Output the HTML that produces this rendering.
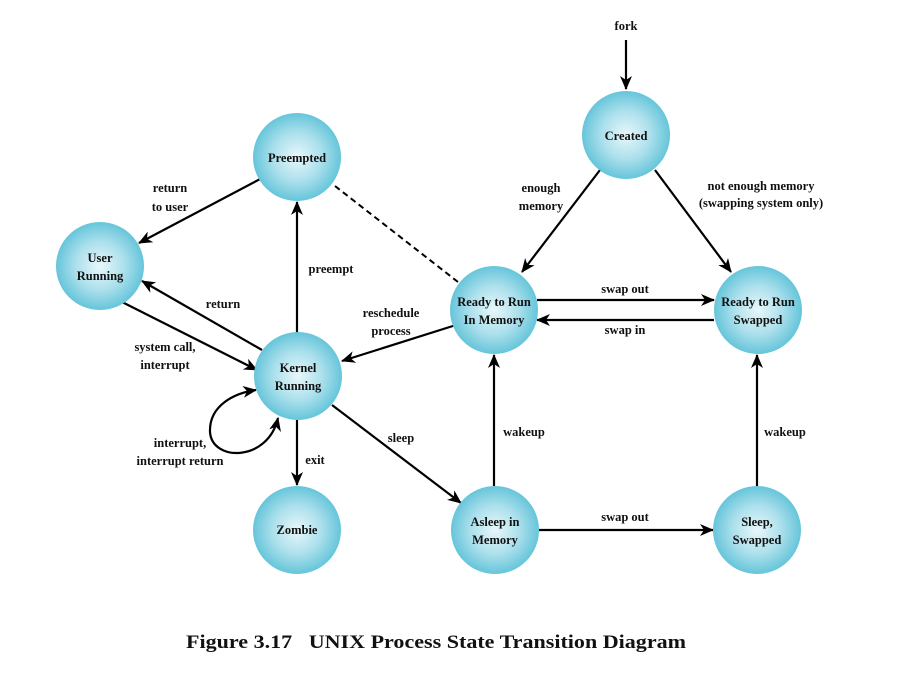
<!DOCTYPE html>
<html><head><meta charset="utf-8"><style>
body{margin:0;background:#fff;}
svg{display:block;font-family:"Liberation Serif",serif;font-weight:bold;}
</style></head><body>
<svg width="910" height="674" viewBox="0 0 910 674">
<defs>
<radialGradient id="g" cx="50%" cy="50%" r="50%">
<stop offset="0" stop-color="#e8f7fa"/><stop offset="0.55" stop-color="#ace0ec"/><stop offset="1" stop-color="#66c5da"/>
</radialGradient>
<marker id="a" markerWidth="14" markerHeight="12" refX="13" refY="6" orient="auto" markerUnits="userSpaceOnUse" viewBox="0 0 14 12">
<path d="M0,0 L14,6 L0,12 L4,6 z" fill="#000"/></marker>
<marker id="s" markerWidth="14" markerHeight="12" refX="1" refY="6" orient="auto" markerUnits="userSpaceOnUse" viewBox="0 0 14 12">
<path d="M14,0 L0,6 L14,12 L10,6 z" fill="#000"/></marker>
</defs>
<g stroke="#000" stroke-width="2.2" fill="none" marker-end="url(#a)">
<line x1="626" y1="40" x2="626" y2="89"/>
<line x1="600" y1="170" x2="522" y2="272"/>
<line x1="655" y1="170" x2="731" y2="272"/>
<line x1="537" y1="300" x2="714" y2="300"/>
<line x1="714" y1="320" x2="537" y2="320"/>
<line x1="262" y1="178" x2="139" y2="243"/>
<line x1="297" y1="333" x2="297" y2="202"/>
<line x1="262" y1="350" x2="142" y2="281"/>
<line x1="122" y1="302" x2="257" y2="370"/>
<line x1="456" y1="325" x2="342" y2="361"/>
<line x1="297" y1="420" x2="297" y2="485"/>
<line x1="332" y1="405" x2="461" y2="503"/>
<line x1="494" y1="486" x2="494" y2="355"/>
<line x1="539" y1="530" x2="713" y2="530"/>
<line x1="757" y1="486" x2="757" y2="355"/>
<path d="M278 418 C268 462,212 462,210 432 C209 405,235 393,256 390" marker-start="url(#s)"/>
</g>
<line x1="335" y1="186" x2="458" y2="282" stroke="#000" stroke-width="2" stroke-dasharray="6,4"/>
<g fill="url(#g)">
<circle cx="626" cy="135" r="44"/>
<circle cx="297" cy="157" r="44"/>
<circle cx="100" cy="266" r="44"/>
<circle cx="298" cy="376" r="44"/>
<circle cx="494" cy="310" r="44"/>
<circle cx="758" cy="310" r="44"/>
<circle cx="297" cy="530" r="44"/>
<circle cx="495" cy="530" r="44"/>
<circle cx="757" cy="530" r="44"/>
</g>
<g font-size="12.5" text-anchor="middle" fill="#111">
<text x="626" y="140">Created</text>
<text x="297" y="162">Preempted</text>
<text x="100" y="262">User</text><text x="100" y="280">Running</text>
<text x="298" y="372">Kernel</text><text x="298" y="390">Running</text>
<text x="494" y="306">Ready to Run</text><text x="494" y="324">In Memory</text>
<text x="758" y="306">Ready to Run</text><text x="758" y="324">Swapped</text>
<text x="297" y="534">Zombie</text>
<text x="495" y="526">Asleep in</text><text x="495" y="544">Memory</text>
<text x="757" y="526">Sleep,</text><text x="757" y="544">Swapped</text>
<text x="626" y="30">fork</text>
<text x="541" y="192">enough</text><text x="541" y="210">memory</text>
<text x="761" y="190">not enough memory</text><text x="761" y="207">(swapping system only)</text>
<text x="625" y="293">swap out</text>
<text x="625" y="334">swap in</text>
<text x="170" y="192">return</text><text x="170" y="211">to user</text>
<text x="331" y="273">preempt</text>
<text x="223" y="308">return</text>
<text x="391" y="317">reschedule</text><text x="391" y="335">process</text>
<text x="165" y="351">system call,</text><text x="165" y="369">interrupt</text>
<text x="180" y="447">interrupt,</text><text x="180" y="465">interrupt return</text>
<text x="315" y="464">exit</text>
<text x="401" y="442">sleep</text>
<text x="524" y="436">wakeup</text>
<text x="785" y="436">wakeup</text>
<text x="625" y="521">swap out</text>
</g>
<text x="186" y="648" font-size="19" fill="#111" xml:space="preserve" textLength="500" lengthAdjust="spacingAndGlyphs">Figure 3.17   UNIX Process State Transition Diagram</text>
</svg>
</body></html>
